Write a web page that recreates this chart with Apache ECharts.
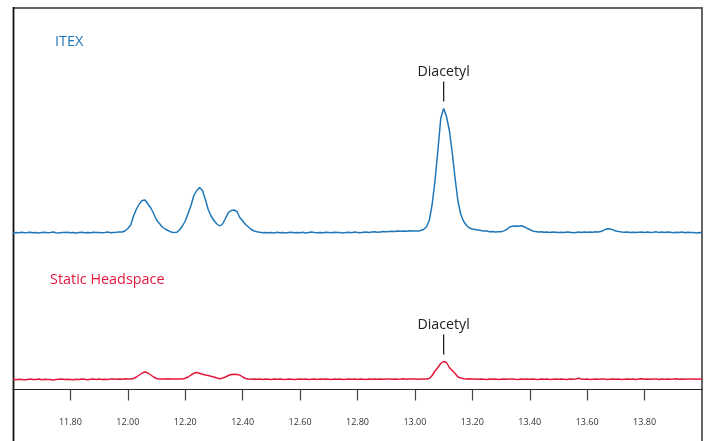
<!DOCTYPE html>
<html>
<head>
<meta charset="utf-8">
<script src="https://cdn.jsdelivr.net/npm/echarts@6/dist/echarts.min.js"></script>
<style>
html,body{margin:0;padding:0;background:#fff;}
#chart{width:709px;height:441px;}
</style>
</head>
<body>
<div id="chart"></div>
<script>
// retention time (min)
const times = [
11.60,11.61,11.62,11.63,11.64,11.65,11.66,11.67,11.68,11.69,
11.70,11.71,11.72,11.73,11.74,11.75,11.76,11.77,11.78,11.79,
11.80,11.81,11.82,11.83,11.84,11.85,11.86,11.87,11.88,11.89,
11.90,11.91,11.92,11.93,11.94,11.95,11.96,11.97,11.98,11.99,
12.00,12.01,12.02,12.03,12.04,12.05,12.06,12.07,12.08,12.09,
12.10,12.11,12.12,12.13,12.14,12.15,12.16,12.17,12.18,12.19,
12.20,12.21,12.22,12.23,12.24,12.25,12.26,12.27,12.28,12.29,
12.30,12.31,12.32,12.33,12.34,12.35,12.36,12.37,12.38,12.39,
12.40,12.41,12.42,12.43,12.44,12.45,12.46,12.47,12.48,12.49,
12.50,12.51,12.52,12.53,12.54,12.55,12.56,12.57,12.58,12.59,
12.60,12.61,12.62,12.63,12.64,12.65,12.66,12.67,12.68,12.69,
12.70,12.71,12.72,12.73,12.74,12.75,12.76,12.77,12.78,12.79,
12.80,12.81,12.82,12.83,12.84,12.85,12.86,12.87,12.88,12.89,
12.90,12.91,12.92,12.93,12.94,12.95,12.96,12.97,12.98,12.99,
13.00,13.01,13.02,13.03,13.04,13.05,13.06,13.07,13.08,13.09,
13.10,13.11,13.12,13.13,13.14,13.15,13.16,13.17,13.18,13.19,
13.20,13.21,13.22,13.23,13.24,13.25,13.26,13.27,13.28,13.29,
13.30,13.31,13.32,13.33,13.34,13.35,13.36,13.37,13.38,13.39,
13.40,13.41,13.42,13.43,13.44,13.45,13.46,13.47,13.48,13.49,
13.50,13.51,13.52,13.53,13.54,13.55,13.56,13.57,13.58,13.59,
13.60,13.61,13.62,13.63,13.64,13.65,13.66,13.67,13.68,13.69,
13.70,13.71,13.72,13.73,13.74,13.75,13.76,13.77,13.78,13.79,
13.80,13.81,13.82,13.83,13.84,13.85,13.86,13.87,13.88,13.89,
13.90,13.91,13.92,13.93,13.94,13.95,13.96,13.97,13.98,13.99,
14.00
];

// ITEX detector response (arbitrary units)
const itex = [
9.6,10.0,9.8,10.2,9.7,9.9,10.3,9.8,10.1,9.6,
9.9,10.2,9.7,10.0,10.4,9.8,9.6,10.1,9.9,10.3,
9.8,10.0,9.5,9.9,10.2,9.7,10.1,9.8,10.3,9.9,
10.1,9.7,10.0,10.4,9.8,10.0,10.2,10.6,10.5,11.5,
14,17.5,26.5,33.5,38.5,42,42.5,38.5,34.5,29,
22.5,19,15.5,13.5,12,10.6,10.0,10.2,12.5,16.5,
21.5,29,37,47,52,55,52,43,33,26.5,
22,18.5,16.5,18.5,24,29.8,32,32.5,31,25,
21.5,18,15.5,13,11.5,10.8,10.2,9.8,10.1,9.7,
10.0,9.6,10.2,9.8,10.1,9.5,9.9,10.3,9.7,10.0,
9.8,10.2,9.6,10.0,10.4,9.9,9.7,10.1,9.8,10.2,
10.0,9.7,10.3,9.9,10.1,9.6,10.0,10.2,9.8,10.4,
10.1,9.8,10.3,10.5,10.0,10.4,10.8,10.3,10.6,10.9,
10.7,11.0,11.3,10.9,11.4,11.2,11.6,11.3,11.7,11.5,
11.5,11.5,12,13,15.5,22,38,62,92,124,
134,126,112,90,64,41,28,21,17,14.5,
13.5,13,12.5,12,11.5,11.5,10.8,11.0,10.6,10.7,
10.8,11.6,13.2,15.5,16.2,16.5,16.3,16.8,15.8,14.3,
13,11.6,11.0,10.6,10.8,10.3,10.5,10.1,10.4,10.2,
9.9,10.3,10.0,10.5,10.2,9.8,10.1,10.4,10.0,10.6,
10.2,10.5,10.3,10.8,10.6,11.2,12.6,13.8,13.5,12.6,
11.5,10.9,10.5,10.2,10.4,10.0,10.3,9.9,10.2,10.5,
10.1,10.6,10.0,10.3,10.7,9.9,10.4,10.1,10.6,10.2,
9.8,10.3,10.0,10.5,9.7,10.2,9.9,10.1,9.6,10.0,
9.8
];

// Static Headspace detector response (arbitrary units, same scale)
const staticHS = [
10.3,9.8,10.2,10.0,9.7,10.1,10.4,9.9,10.0,10.5,
9.8,10.2,9.9,10.0,9.6,9.9,10.2,10.4,10.0,10.3,
10.1,9.7,10.3,10.0,10.5,10.2,9.8,10.3,10.4,10.0,
10.5,10.1,10.2,9.9,10.4,10.6,10.2,10.5,10.3,10.8,
10.6,10.5,11,12.5,14.5,16.5,17.5,16.5,14.5,12.5,
11,10.5,10.6,10.4,10.7,10.5,10.4,10.6,10.4,10.5,
11.2,12.5,14.5,16.2,16.9,16.3,15.3,14.6,14,13.2,
12.5,11.5,10.8,11.5,12.5,14,15,15.2,15,14.5,
12.5,11,10.5,10.3,10.6,10.2,10.4,10.1,10.5,10.3,
10.0,10.4,10.2,10.6,10.3,10.1,10.5,10.2,9.9,10.3,
10.6,10.2,10.4,10.0,10.3,10.5,10.1,10.4,10.2,10.6,
10.3,10.0,10.4,10.2,10.5,10.1,10.3,10.6,10.2,10.4,
10.1,10.5,10.3,10.0,10.4,10.2,10.6,10.3,10.5,10.2,
10.4,10.6,10.3,10.5,10.2,10.4,10.7,10.3,10.5,10.4,
10.6,10.3,10.5,10.4,10.5,11,14,18.5,22,26,
28,27,22,19,16,12.5,11.5,10.8,10.5,10.7,
10.4,10.6,10.2,10.5,10.3,10.0,10.4,10.2,10.5,10.1,
10.3,10.5,10.2,10.4,10.6,10.3,10.1,10.4,10.2,10.5,
10.3,10.6,10.2,10.0,10.4,10.3,10.5,10.1,10.3,10.4,
10.2,10.5,10.3,10.1,10.4,10.2,10.6,11.3,10.5,10.2,
10.4,10.1,10.3,10.5,10.2,10.4,10.6,10.1,10.3,10.5,
10.2,10.4,10.0,10.3,10.6,10.2,10.5,10.1,10.4,10.7,
10.3,10.5,10.2,10.6,10.4,10.1,10.5,10.3,10.6,10.2,
10.4,10.7,10.3,10.5,10.2,10.6,10.4,10.5,10.3,10.6,
10.4
];

const tickValues = [11.80,12.00,12.20,12.40,12.60,12.80,13.00,13.20,13.40,13.60,13.80];
const seriesNames = ['ITEX','Static Headspace'];
const peakName = 'Diacetyl';

const FONT = "'Open Sans','Noto Sans',sans-serif";
const BLUE = '#1f77b9';
const RED = '#e3173c';

function pairs(vals){ return times.map((t,i)=>[t, vals[i]]); }
function peakOf(vals){
  let k = 0;
  vals.forEach((v,i)=>{ if(v>vals[k]) k=i; });
  return [times[k], vals[k]];
}

const peakMark = (vals) => ({
  silent: true,
  animation: false,
  data: [{
    coord: peakOf(vals),
    symbol: 'rect',
    symbolSize: [1.3, 20],
    symbolOffset: [0, -17],
    itemStyle: {color: '#222'},
    label: {
      show: true, position: 'top', distance: 3,
      formatter: peakName, color: '#222',
      fontFamily: FONT, fontSize: 14.2
    }
  }]
});

const chart = echarts.init(document.getElementById('chart'), null, {renderer:'canvas'});
chart.setOption({
  animation: false,
  backgroundColor: '#fff',
  grid: [
    {left: 13, right: 7, top: 7.5, height: 235},
    {left: 13, right: 7, top: 289.5, height: 100}
  ],
  xAxis: [
    {gridIndex: 0, type: 'value', min: 11.6, max: 14.0, show: false},
    {gridIndex: 1, type: 'value', min: 11.6, max: 14.0, interval: 0.2, offset: 12.5,
     axisLine: {show: true, lineStyle: {color: '#222', width: 1.2}},
     axisTick: {show: true, inside: false, length: 11, customValues: tickValues,
                lineStyle: {color: '#444', width: 1.2}},
     axisLabel: {show: true, customValues: tickValues, margin: 16,
                 formatter: v => v.toFixed(2), color: '#333', fontSize: 9, fontFamily: FONT},
     splitLine: {show: false}}
  ],
  yAxis: [
    {gridIndex: 0, type: 'value', min: 0, max: 235, show: false},
    {gridIndex: 1, type: 'value', min: 0, max: 100, show: false}
  ],
  series: [
    {name: seriesNames[0], type: 'line', xAxisIndex: 0, yAxisIndex: 0, data: pairs(itex),
     showSymbol: false, symbol: 'none', lineStyle: {color: BLUE, width: 1.5},
     markPoint: peakMark(itex)},
    {name: seriesNames[1], type: 'line', xAxisIndex: 1, yAxisIndex: 1, data: pairs(staticHS),
     showSymbol: false, symbol: 'none', lineStyle: {color: RED, width: 1.5},
     markPoint: peakMark(staticHS)}
  ],
  graphic: [
    {type: 'line', shape: {x1: 13, y1: 8, x2: 702, y2: 8}, style: {stroke: '#666', lineWidth: 2}},
    {type: 'line', shape: {x1: 13.5, y1: 7, x2: 13.5, y2: 441}, style: {stroke: '#111', lineWidth: 1.8}},
    {type: 'line', shape: {x1: 702, y1: 7, x2: 702, y2: 441}, style: {stroke: '#555', lineWidth: 1.8}},
    {type: 'text', left: 55, top: 34, style: {text: seriesNames[0], fill: BLUE, font: '14.5px ' + FONT}},
    {type: 'text', left: 50, top: 273, style: {text: seriesNames[1], fill: RED, font: '14.4px ' + FONT}}
  ]
});
</script>
</body>
</html>
